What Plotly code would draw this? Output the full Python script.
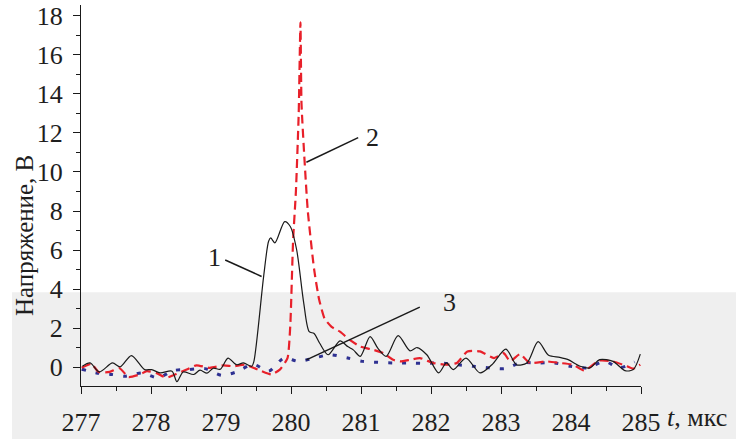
import plotly.graph_objects as go

# Curve 1 (black solid)
t1 = [277.02, 277.13, 277.26, 277.45, 277.56, 277.72, 277.91, 278.01, 278.13, 278.30,
      278.37, 278.46, 278.61, 278.70, 278.80, 278.89, 278.99, 279.10, 279.22, 279.32,
      279.44, 279.47, 279.61, 279.68, 279.71, 279.77, 279.91, 279.99, 280.08, 280.18,
      280.26, 280.33, 280.41, 280.53, 280.70, 280.81, 280.89, 280.99, 281.13, 281.24,
      281.36, 281.53, 281.70, 281.80, 281.94, 282.11, 282.22, 282.32, 282.50, 282.70,
      282.87, 283.07, 283.22, 283.37, 283.53, 283.68, 283.84, 283.96, 284.13, 284.27,
      284.41, 284.60, 284.77, 284.89, 284.99]
v1 = [0.05, 0.22, -0.24, 0.22, 0.02, 0.60, -0.12, -0.12, -0.29, -0.20,
      -0.74, -0.24, -0.37, -0.15, -0.30, -0.05, -0.10, 0.47, 0.13, 0.22,
      0.05, 0.30, 4.68, 6.45, 6.62, 6.37, 7.46, 7.21, 6.03, 3.34,
      1.82, 1.73, 1.23, 0.64, 1.35, 1.06, 0.89, 0.56, 1.57, 0.98,
      0.56, 1.62, 0.84, 1.01, 0.64, -0.29, 0.22, -0.12, 0.47, -0.29,
      0.13, 0.93, 0.13, 0.22, 1.31, 0.61, 0.51, 0.39, 0.05, -0.03,
      0.39, 0.30, -0.17, -0.12, 0.67]

# Curve 2 (red dashed)
t2 = [277.01, 277.15, 277.25, 277.41, 277.55, 277.68, 277.84, 277.94, 278.08, 278.22,
      278.36, 278.51, 278.65, 278.84, 279.04, 279.18, 279.34, 279.56, 279.72, 279.84,
      279.95, 279.99, 280.03, 280.07, 280.11, 280.135, 280.15, 280.19, 280.24, 280.33,
      280.40, 280.48, 280.58, 280.70, 280.84, 280.99, 281.18, 281.32, 281.46, 281.56,
      281.70, 281.84, 282.03, 282.22, 282.37, 282.52, 282.70, 282.90, 283.04, 283.13,
      283.27, 283.41, 283.65, 283.84, 284.03, 284.19, 284.40, 284.60, 284.80, 284.89,
      284.99]
v2 = [-0.03, 0.17, -0.24, -0.24, -0.05, -0.50, -0.37, -0.20, -0.30, -0.54,
      -0.35, -0.12, 0.10, -0.03, 0.10, 0.05, 0.13, -0.17, -0.37, -0.12,
      0.47, 2.15, 6.5, 9.0, 13.0, 17.66, 13.5, 10.8, 8.0, 5.02,
      3.5, 2.49, 2.07, 1.82, 1.40, 1.06, 0.89, 0.72, 0.38, 0.30,
      0.38, 0.47, 0.22, 0.13, 0.22, 0.81, 0.81, 0.47, 0.72, 0.30,
      0.67, 0.22, 0.30, 0.22, 0.13, -0.17, 0.34, 0.30, 0.05, -0.07,
      0.13]

# Curve 3 (blue dotted)
t3 = [277.01, 277.22, 277.44, 277.63, 277.87, 278.10, 278.32, 278.53, 278.77, 279.01,
      279.22, 279.46, 279.68, 279.90, 280.11, 280.33, 280.56, 280.81, 281.02, 281.24,
      281.46, 281.69, 281.91, 282.13, 282.37, 282.60, 282.83, 283.06, 283.27, 283.51,
      283.76, 283.99, 284.24, 284.48, 284.69, 284.91]
v3 = [-0.10, -0.29, -0.37, -0.46, -0.29, -0.54, -0.17, -0.12, -0.07, -0.41,
      -0.24, 0.15, -0.20, 0.47, 0.30, 0.47, 0.64, 0.47, 0.30, 0.25,
      0.22, 0.22, 0.20, 0.22, 0.13, 0.05, -0.03, -0.07, 0.22, 0.22,
      0.22, 0.05, -0.03, 0.30, -0.03, 0.27]

x_ticks = [277, 278, 279, 280, 281, 282, 283, 284, 285]
y_ticks = [0, 2, 4, 6, 8, 10, 12, 14, 16, 18]

# Curve labels and leader lines (label position, line start, line end)
labels = ["1", "2", "3"]
label_pos = [(278.90, 5.61), (281.17, 11.74), (282.26, 3.34)]
leader = [((279.06, 5.49), (279.58, 4.65)),
          ((280.96, 11.76), (280.22, 10.50)),
          ((281.84, 3.08), (280.22, 0.38))]

FONT = "Liberation Serif"
TXT = "#1e1e1e"
FS = 26

fig = go.Figure()
fig.add_trace(go.Scatter(x=t3, y=v3, mode="lines",
                         line=dict(color="#2e3192", width=3, dash="4px,10px", shape="spline", smoothing=0.8)))
fig.add_trace(go.Scatter(x=t2, y=v2, mode="lines",
                         line=dict(color="#e8202a", width=2.2, dash="9px,5px", shape="spline", smoothing=0.5)))
fig.add_trace(go.Scatter(x=t1, y=v1, mode="lines",
                         line=dict(color="#1a1a1a", width=1.2, shape="spline", smoothing=0.8)))

shapes = [dict(type="rect", xref="paper", yref="paper", x0=-0.1232, x1=1.17, y0=-0.14, y1=0.246,
               fillcolor="#efefef", line=dict(width=0), layer="below")]
for (a, b) in leader:
    shapes.append(dict(type="line", xref="x", yref="y", x0=a[0], y0=a[1], x1=b[0], y1=b[1],
                       line=dict(color="#1a1a1a", width=1.5)))

annotations = []
for lab, (lx, ly) in zip(labels, label_pos):
    annotations.append(dict(x=lx, y=ly, xref="x", yref="y", text=lab, showarrow=False,
                            font=dict(family=FONT, size=FS, color=TXT), xanchor="center", yanchor="middle"))
annotations.append(dict(x=1.043, y=-0.083, xref="paper", yref="paper", text="<i>t</i>, мкс",
                        showarrow=False, xanchor="left", yanchor="middle",
                        font=dict(family=FONT, size=FS, color=TXT)))
annotations.append(dict(x=-0.102, y=0.396, xref="paper", yref="paper", text="Напряжение, В",
                        showarrow=False, textangle=-90, xanchor="center", yanchor="middle",
                        font=dict(family=FONT, size=FS - 1, color=TXT)))

fig.update_layout(
    width=736, height=439,
    margin=dict(l=81, r=95, t=2, b=51),
    paper_bgcolor="white", plot_bgcolor="rgba(0,0,0,0)",
    showlegend=False,
    shapes=shapes, annotations=annotations,
    font=dict(family=FONT, size=FS, color=TXT),
)
fig.update_xaxes(range=[277, 285], tickvals=x_ticks, ticktext=[str(v) for v in x_ticks],
                 showgrid=False, zeroline=False, showline=True, linecolor="#1a1a1a", linewidth=1.3,
                 ticks="outside", ticklen=7, tickwidth=1.3, tickcolor="#1a1a1a",
                 ticklabelstandoff=6, ticklabeloverflow="allow",
                 minor=dict(dtick=0.5, tick0=277, ticks="outside", ticklen=4, tickwidth=1.2, tickcolor="#1a1a1a"),
                 tickfont=dict(family=FONT, size=FS, color=TXT))
fig.update_yaxes(range=[-0.96, 18.55], tickvals=y_ticks, ticktext=[str(v) for v in y_ticks],
                 showgrid=False, zeroline=False, showline=True, linecolor="#1a1a1a", linewidth=1.3,
                 ticks="outside", ticklen=7, tickwidth=1.3, tickcolor="#1a1a1a",
                 ticklabelstandoff=5, ticklabeloverflow="allow",
                 minor=dict(dtick=1, tick0=0, ticks="outside", ticklen=4, tickwidth=1.2, tickcolor="#1a1a1a"),
                 tickfont=dict(family=FONT, size=FS, color=TXT))

fig.write_html("out.html")
